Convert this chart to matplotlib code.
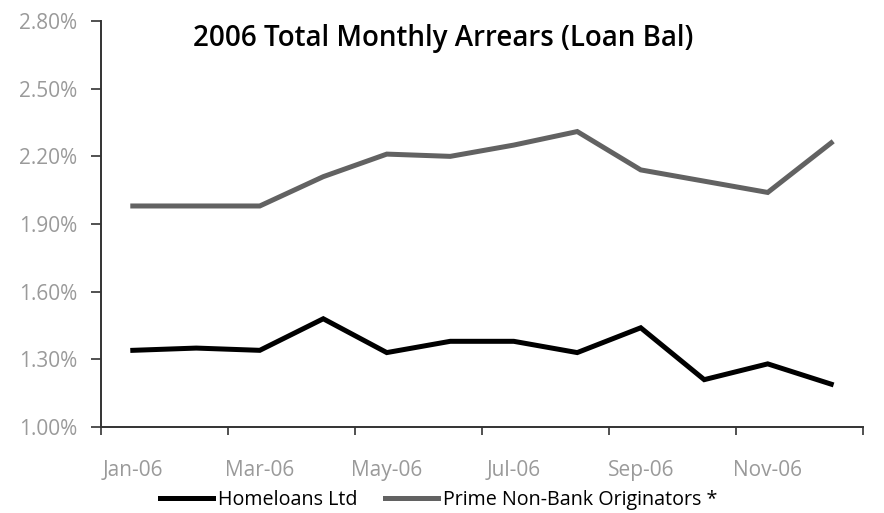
import matplotlib.pyplot as plt
import numpy as np

months = ['Jan-06', 'Feb-06', 'Mar-06', 'Apr-06', 'May-06', 'Jun-06',
          'Jul-06', 'Aug-06', 'Sep-06', 'Oct-06', 'Nov-06', 'Dec-06']
homeloans = [1.34, 1.35, 1.34, 1.48, 1.33, 1.38, 1.38, 1.33, 1.44, 1.21, 1.28, 1.19]
prime_nonbank = [1.98, 1.98, 1.98, 2.11, 2.21, 2.20, 2.25, 2.31, 2.14, 2.09, 2.04, 2.26]
y_ticks = [1.00, 1.30, 1.60, 1.90, 2.20, 2.50, 2.80]

plt.rcParams['font.family'] = ['Open Sans', 'DejaVu Sans']

fig = plt.figure(figsize=(8.84, 5.13), dpi=100)
ax = fig.add_axes([0.1143, 0.1676, 0.8619, 0.7914])

x = np.arange(len(months))
ax.plot(x, homeloans, color='black', linewidth=3.6, label='Homeloans Ltd',
        solid_joinstyle='miter')
ax.plot(x, prime_nonbank, color='#626262', linewidth=3.6,
        label='Prime Non-Bank Originators *', solid_joinstyle='miter')

ax.set_xlim(-0.5, len(months) - 0.5)
ax.set_ylim(1.00, 2.80)

# ticks between pairs of months, labels on every second month
ax.set_xticks(np.arange(-0.5, len(months), 2))
ax.set_xticklabels([])
ax.set_xticks(x[::2], minor=True)
ax.set_xticklabels(months[::2], minor=True)
ax.tick_params(axis='x', which='major', direction='out', length=6, width=1.2, color='#333333')
ax.tick_params(axis='x', which='minor', length=0, pad=24, labelsize=15, labelcolor='#9a9a9a')

ax.set_yticks(y_ticks)
ax.set_yticklabels([f'{v:.2f}%' for v in y_ticks])
ax.tick_params(axis='y', direction='out', length=7, width=1.2, color='#333333',
               pad=10, labelsize=15, labelcolor='#9a9a9a')

ax.spines['top'].set_visible(False)
ax.spines['right'].set_visible(False)
ax.spines['left'].set_color('#333333')
ax.spines['bottom'].set_color('#333333')
ax.spines['left'].set_linewidth(1.4)
ax.spines['bottom'].set_linewidth(1.4)

fig.text(0.501, 0.925, '2006 Total Monthly Arrears (Loan Bal)', ha='center', va='center',
         fontsize=20, fontweight='semibold', color='black')

fig.legend(loc='center', bbox_to_anchor=(0.496, 0.026), ncol=2, frameon=False,
           fontsize=14.2, handlelength=2.7, handletextpad=0.25, columnspacing=1.4,
           borderpad=0.1)

fig.savefig('out.png', dpi=100)
